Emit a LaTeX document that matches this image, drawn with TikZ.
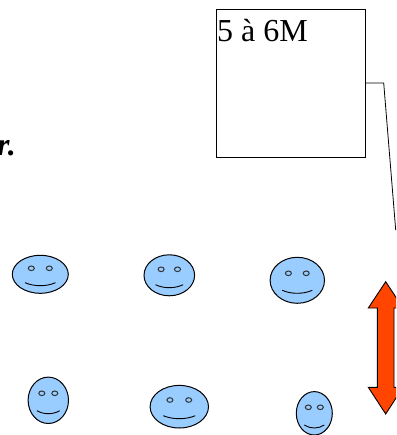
\documentclass[tikz,border=0pt]{standalone}
\usepackage{fontspec}
\setmainfont{Liberation Serif}
\usetikzlibrary{shapes.geometric}
\definecolor{facefill}{HTML}{99CCFF}
\definecolor{arrowfill}{HTML}{FF4500}
\tikzset{
  facebody/.style={ellipse,draw=black,line width=1pt,fill=facefill,inner sep=0pt,outer sep=0pt},
  faceeye/.style={draw=black!80,line width=1pt,fill=facefill},
  facemouth/.style={draw=black,line width=0.9pt},
  boxnode/.style={rectangle,draw=black,line width=0.9pt,fill=white,minimum width=148.5pt,minimum height=148pt,inner sep=0pt,outer sep=0pt},
  boxtext/.style={font=\fontsize{32}{32}\selectfont,inner sep=0pt,anchor=base west},
  noteline/.style={draw=black,line width=0.8pt},
  bigarrow/.style={draw=black,line width=0.9pt,fill=arrowfill,line join=miter}
}
% #1 name, #2 cx, #3 cy, #4 rx, #5 ry, #6 eye dx, #7 eye dy, #8 mouth half width, #9 mouth dy
\newcommand{\smileyface}[9]{%
  \node[facebody,minimum width=#4*2pt,minimum height=#5*2pt] (#1) at (#2,#3) {};
  \draw[faceeye] (#2-#6,#3+#7) ellipse (3pt and 2.3pt);
  \draw[faceeye] (#2+#6,#3+#7) ellipse (3pt and 2.3pt);
  \draw[facemouth] (#2-#8,#3+#9) .. controls (#2-#8*0.4,#3+#9+4) and (#2+#8*0.4,#3+#9+4) .. (#2+#8,#3+#9);
}
\begin{document}
\begin{tikzpicture}[x=1pt,y=-1pt]
\useasboundingbox (0,0) rectangle (396,435);
\clip (0,0) rectangle (396,435);
\fill[white] (0,0) rectangle (396,435);

\node[boxnode] (box) at (290.75,83) {};
\node[boxtext] (boxlabel) at (217,41.5) {5 à 6M};
\coordinate (lineend) at (395.7,230);
\draw[noteline] (box.east) -- (383.7,83) -- (lineend);

\node[font=\fontsize{32}{32}\selectfont\bfseries\itshape,inner sep=0pt,anchor=base east] (cut) at (16,155.5) {r.};

\smileyface{f1}{40.3}{274.3}{28}{19}{9}{-6}{15.2}{8.4}
\smileyface{f2}{169.3}{275.3}{25.3}{20.5}{8.2}{-6}{13.8}{9.4}
\smileyface{f3}{297.3}{280.3}{27.2}{23}{8.9}{-7}{15}{10}
\smileyface{f4}{48.3}{400.3}{20.2}{23.2}{6.5}{-7}{11.4}{10.4}
\smileyface{f5}{179.3}{406.7}{29.2}{21.3}{9.4}{-6.7}{16}{9}
\smileyface{f6}{314.3}{413.3}{18}{21.7}{6}{-6}{10}{11.7}

\draw[bigarrow] (385.7,281.7) -- (403,308) -- (394,308) -- (394,387.3) -- (403,387.3)
  -- (385.7,414) -- (368.3,387.3) -- (377.3,387.3) -- (377.3,308) -- (368.3,308) -- cycle;
\end{tikzpicture}
\end{document}
